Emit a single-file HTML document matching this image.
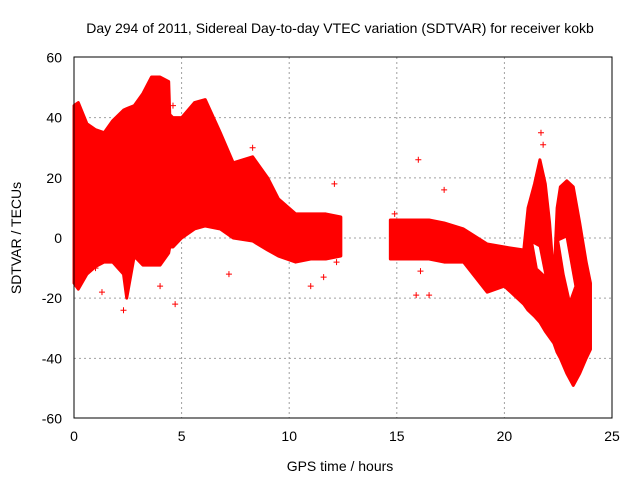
<!DOCTYPE html>
<html><head><meta charset="utf-8"><style>
body{margin:0;background:#fff}
svg{display:block;font-family:"Liberation Sans",sans-serif}
</style></head><body>
<svg id="chart" width="640" height="480">
<text x="340" y="33" font-size="14" text-anchor="middle">Day 294 of 2011, Sidereal Day-to-day VTEC variation (SDTVAR) for receiver kokb</text>
<g id="grid"></g>
<g id="marks"></g>
<rect x="74" y="57" width="538" height="361" fill="none" stroke="#000"/>
<g id="ticks"></g>
<text x="340" y="471" font-size="14" text-anchor="middle">GPS time / hours</text>
<text transform="translate(21,238) rotate(-90)" font-size="14" text-anchor="middle">SDTVAR / TECUs</text>
</svg>
<script>
const xTicks=[0,5,10,15,20,25];
const yTicks=[-60,-40,-20,0,20,40,60];
const seg1Hours=[0,0.2,0.6,1.0,1.4,1.8,2.3,2.45,2.8,3.2,3.6,4.0,4.4,4.45,4.6,5.0,5.6,6.1,6.8,7.4,8.3,9.0,9.5,10.3,11.0,11.7,12.4];
const seg1Upper=[44,45,38,36,35,39,42.5,43,44,48,53.5,53.5,52,41,40,40,45,46,35,25,27,20,13,8,8,8,7];
const seg1Lower=[-15,-17,-12,-9.5,-8,-8,-12,-20,-6,-9,-9,-9,-5,-3,-3,0,3,4,3,0,-1,-4,-6,-8,-7,-7,-6];
const seg2Hours=[14.7,15.5,16.5,17.2,18.1,19.2,20.0,20.9,21.1,21.4,21.65,21.9,22.1,22.3,22.45,22.6,22.9,23.2,23.5,23.8,24.0];
const seg2Upper=[6,6,6,5,3,-2,-3,-4,10,18,26,18,5,-14,10,17,19,17,5,-8,-15];
const seg2Lower=[-7,-7,-7,-8,-8,-18,-16,-22,-24,-26,-28,-31,-33,-35,-38,-40,-45,-49,-45,-40,-37];
const hole1=[[21.35,-2],[21.6,-3],[21.85,-12],[21.55,-10]];
const hole2=[[22.55,-1],[22.85,0],[23.25,-16],[23.05,-20],[22.8,-12]];
const outHours=[4.7,4.6,8.3,2.3,7.2,11.0,11.6,12.1,16.0,15.9,16.5,17.2,21.7,21.8,12.2,4.0,1.3,1.0,14.9,16.1];
const outValues=[-22,44,30,-24,-12,-16,-13,18,26,-19,-19,16,35,31,-8,-16,-18,-10,8,-11];
const X=h=>74+h*(538/25), Y=v=>238-v*(361/120);
const NS='http://www.w3.org/2000/svg';
const g=document.getElementById('grid'),t=document.getElementById('ticks'),m=document.getElementById('marks');
function mk(tag,a,p){const e=document.createElementNS(NS,tag);for(const k in a)e.setAttribute(k,a[k]);p.appendChild(e);return e;}
xTicks.forEach(v=>{const x=X(v);
 if(v>0&&v<25){const l=mk('line',{x1:x,x2:x,y1:57,y2:418,stroke:'#a0a0a0','stroke-dasharray':'2,3'},g);
 }
 const tx=mk('text',{x:x,y:441,'font-size':14,'text-anchor':'middle'},t);tx.textContent=v;
 });
yTicks.forEach(v=>{const y=Y(v);
 if(v>-60&&v<60){const l=mk('line',{x1:74,x2:612,y1:y,y2:y,stroke:'#a0a0a0','stroke-dasharray':'2,3'},g);
 }
 const tx=mk('text',{x:62,y:y+5,'font-size':14,'text-anchor':'end'},t);tx.textContent=v;
 });
function band(h,u,l,name){let pts=h.map((x,i)=>X(x)+','+Y(u[i]));
 for(let i=h.length-1;i>=0;i--)pts.push(X(h[i])+','+Y(l[i]));
 const p=mk('polygon',{points:pts.join(' '),fill:'#ff0000',stroke:'#ff0000','stroke-width':3,'stroke-linejoin':'round'},m);
 }
band(seg1Hours,seg1Upper,seg1Lower,'data-band-1');
band(seg2Hours,seg2Upper,seg2Lower,'data-band-2');
[hole1,hole2].forEach(hl=>{
 const p=mk('polygon',{points:hl.map(q=>X(q[0])+','+Y(q[1])).join(' '),fill:'#fff'},m);
 });
outHours.forEach((h,i)=>{const x=X(h),y=Y(outValues[i]);
 const p=mk('path',{d:`M${x-3},${y}H${x+3}M${x},${y-3}V${y+3}`,stroke:'#ff0000','stroke-width':1},m);
 });
</script>
</body></html>
